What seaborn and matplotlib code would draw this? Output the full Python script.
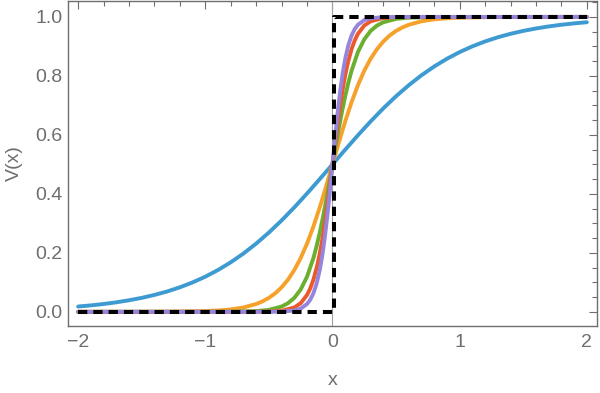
import numpy as np
import pandas as pd
import matplotlib
matplotlib.use("Agg")
import matplotlib.pyplot as plt
import seaborn as sns
from matplotlib.ticker import MultipleLocator

sns.set_style("white")
plt.rcParams["font.family"] = ["Liberation Sans", "DejaVu Sans"]

# values (one list per curve)
blue_x = [-2, -1.9, -1.8, -1.7, -1.6, -1.5, -1.4, -1.3, -1.2, -1.1, -1, -0.9, -0.8, -0.7, -0.6, -0.5,
          -0.4, -0.3, -0.2, -0.1, 0, 0.1, 0.2, 0.3, 0.4, 0.5, 0.6, 0.7, 0.8, 0.9, 1, 1.1, 1.2, 1.3,
          1.4, 1.5, 1.6, 1.7, 1.8, 1.9, 2]
blue_v = [0.018, 0.0219, 0.0266, 0.0323, 0.0392, 0.0474, 0.0573, 0.0691, 0.0832, 0.0998, 0.1192,
          0.1419, 0.168, 0.1978, 0.2315, 0.2689, 0.31, 0.3543, 0.4013, 0.4502, 0.5, 0.5498, 0.5987,
          0.6457, 0.69, 0.7311, 0.7685, 0.8022, 0.832, 0.8581, 0.8808, 0.9002, 0.9168, 0.9309, 0.9427,
          0.9526, 0.9608, 0.9677, 0.9734, 0.9781, 0.982]

orange_x = [-2, -1.5, -1.25, -1, -0.9, -0.8, -0.7, -0.6, -0.55, -0.5, -0.45, -0.4, -0.35, -0.3, -0.25,
            -0.2, -0.15, -0.1, -0.05, 0, 0.05, 0.1, 0.15, 0.2, 0.25, 0.3, 0.35, 0.4, 0.45, 0.5, 0.55,
            0.6, 0.7, 0.8, 0.9, 1, 1.25, 1.5, 2]
orange_v = [0.0, 0.0001, 0.0006, 0.0025, 0.0045, 0.0082, 0.0148, 0.0266, 0.0356, 0.0474, 0.063, 0.0832,
            0.1091, 0.1419, 0.1824, 0.2315, 0.2891, 0.3543, 0.4256, 0.5, 0.5744, 0.6457, 0.7109, 0.7685,
            0.8176, 0.8581, 0.8909, 0.9168, 0.937, 0.9526, 0.9644, 0.9734, 0.9852, 0.9918, 0.9955, 0.9975,
            0.9994, 0.9999, 1.0]

green_x = [-2, -0.8, -0.6, -0.5, -0.4, -0.35, -0.3, -0.25, -0.2, -0.15, -0.125, -0.1, -0.075, -0.05, -0.025, 0,
           0.025, 0.05, 0.075, 0.1, 0.125, 0.15, 0.2, 0.25, 0.3, 0.35, 0.4, 0.5, 0.6, 0.8, 2]
green_v = [0.0, 0.0003, 0.0025, 0.0067, 0.018, 0.0293, 0.0474, 0.0759, 0.1192, 0.1824, 0.2227, 0.2689,
           0.3208, 0.3775, 0.4378, 0.5, 0.5622, 0.6225, 0.6792, 0.7311, 0.7773, 0.8176, 0.8808, 0.9241,
           0.9526, 0.9707, 0.982, 0.9933, 0.9975, 0.9997, 1.0]

red_x = [-2, -0.7, -0.5, -0.4, -0.3, -0.25, -0.2, -0.175, -0.15, -0.12, -0.1, -0.08, -0.06, -0.04, -0.02, 0,
         0.02, 0.04, 0.06, 0.08, 0.1, 0.12, 0.15, 0.175, 0.2, 0.25, 0.3, 0.4, 0.5, 0.7, 2]
red_v = [0.0, 0.0001, 0.0009, 0.0037, 0.0148, 0.0293, 0.0573, 0.0794, 0.1091, 0.1571, 0.1978, 0.246,
         0.3015, 0.3635, 0.4305, 0.5, 0.5695, 0.6365, 0.6985, 0.754, 0.8022, 0.8429, 0.8909, 0.9206,
         0.9427, 0.9707, 0.9852, 0.9963, 0.9991, 0.9999, 1.0]

purple_x = [-2, -0.6, -0.4, -0.3, -0.25, -0.2, -0.175, -0.15, -0.125, -0.1, -0.08, -0.06, -0.04, -0.02, 0,
            0.02, 0.04, 0.06, 0.08, 0.1, 0.125, 0.15, 0.175, 0.2, 0.25, 0.3, 0.4, 0.6, 2]
purple_v = [0.0, 0.0, 0.0008, 0.0045, 0.011, 0.0266, 0.0411, 0.063, 0.0953, 0.1419, 0.1915, 0.2535,
            0.3274, 0.411, 0.5, 0.589, 0.6726, 0.7465, 0.8085, 0.8581, 0.9047, 0.937, 0.9589, 0.9734,
            0.989, 0.9955, 0.9992, 1.0, 1.0]

step_x = [-2, 0.01, 0.01, 2]
step_v = [0, 0, 1, 1]

names = ["blue", "orange", "green", "red", "purple"]
colors = {"blue": "#3e9bd2", "orange": "#f5a12a", "green": "#6aaf2f",
          "red": "#ea5a2c", "purple": "#9784dc"}

frames = []
for name, xs, vs in zip(names, [blue_x, orange_x, green_x, red_x, purple_x],
                        [blue_v, orange_v, green_v, red_v, purple_v]):
    frames.append(pd.DataFrame({"x": xs, "V": vs, "curve": name}))
df = pd.concat(frames, ignore_index=True)

gray = "#6e6e6e"
fig, ax = plt.subplots(figsize=(6, 3.93), dpi=100)
fig.subplots_adjust(left=0.1133, right=0.995, bottom=0.1705, top=0.9975)

ax.axvline(0, color="#a0a0a0", lw=0.8, zorder=1)
sns.lineplot(data=df, x="x", y="V", hue="curve", hue_order=names, palette=colors,
             estimator=None, linewidth=2.8, legend=False, ax=ax, zorder=3)
ax.plot(step_x, step_v, color="black", lw=2.9, linestyle=(0, (2.3, 1.5)), zorder=5)

ax.set_xlim(-2.08, 2.08)
ax.set_ylim(-0.048, 1.054)
ax.xaxis.set_major_locator(MultipleLocator(1))
ax.xaxis.set_minor_locator(MultipleLocator(0.2))
ax.yaxis.set_major_locator(MultipleLocator(0.2))
ax.yaxis.set_minor_locator(MultipleLocator(0.05))
ax.xaxis.set_major_formatter(plt.FuncFormatter(lambda v, p: f"{v:.0f}".replace("-", "\u2212")))
ax.yaxis.set_major_formatter(plt.FuncFormatter(lambda v, p: f"{v:.1f}"))

ax.tick_params(which="both", direction="in", top=True, right=True, color=gray, width=0.8,
               labelcolor=gray, labelsize=14)
ax.tick_params(which="major", length=6)
ax.tick_params(which="minor", length=3.5)
ax.tick_params(axis="x", pad=6)
ax.tick_params(axis="y", pad=4)
for s in ax.spines.values():
    s.set_color(gray)
    s.set_linewidth(1)

ax.set_xlabel("x", color=gray, fontsize=14, labelpad=15)
ax.set_ylabel("V(x)", color=gray, fontsize=14, labelpad=9)

fig.savefig("out.png", dpi=100)
